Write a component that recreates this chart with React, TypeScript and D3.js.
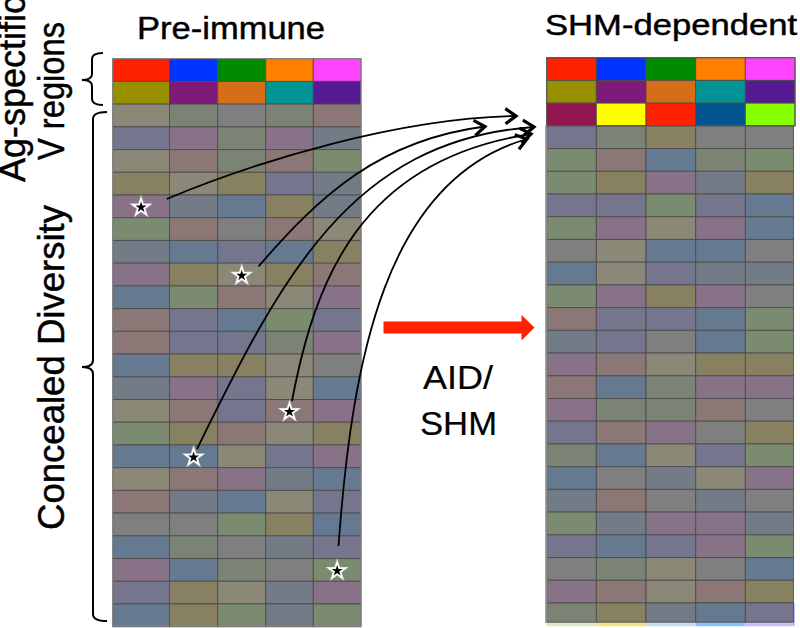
import React from "react";
import * as d3 from "d3";

// ---------- data ----------
const COLUMNS = [0, 1, 2, 3, 4];

// saturated antigen-specific V region rows
const AG_ROW_1 = ["#ff2200", "#0033ff", "#008a00", "#ff7f00", "#ff44ff"];
const AG_ROW_2 = ["#999000", "#7e1a78", "#d66e18", "#009494", "#561a92"];
const AG_ROW_3 = ["#931650", "#ffff00", "#ff2200", "#00548f", "#88ff00"];

// muted palette codes
const MUTED: Record<string, string> = {
  T: "#8b8878", // tan
  G: "#7f7f7f", // gray
  Q: "#7b8375", // gray-green
  N: "#7a8b6f", // green
  R: "#8b7776", // rose
  M: "#887288", // mauve
  S: "#657a90", // slate blue
  B: "#737c86", // blue-gray
  L: "#75758e", // lavender-gray
  O: "#878162", // olive
};

const PRE_ROWS = [
  "TQGQR", "LMQMB", "TRQRN", "OTOLB", "MBSOB", "NRGRT", "BSLSO", "MOTOR",
  "SNRTM", "RLSNL", "RLLQM", "SOOTG", "BMLTS", "TRLRM", "NORTO", "SSTLM",
  "TRMBS", "RBSTL", "GGNOS", "SQGBL", "MSQGN", "LOTBM", "SONBN",
];

const SHM_ROWS = [
  "LQOGG", "NRSQN", "NOMBO", "LLNLS", "NMTMS", "GTSSG", "STLBB", "NMOMG",
  "RLLSN", "BLGSN", "MRTOO", "RSQMM", "MQQRG", "LRMGO", "QSTLN", "SGBTM",
  "BRGBG", "NBMMB", "LSLMN", "GQTGS", "MRTRO", "QOBSL",
];
const SHM_UNDERLAY = ["#d6ecbe", "#f4e27a", "#c8dcf0", "#88c4ff", "#c8c0f4"];

// starred clones in the pre-immune repertoire (muted row index, column)
const STAR_ROWS = [4, 7, 15, 13, 20];
const STAR_COLS = [0, 2, 1, 3, 4];

// ---------- layout ----------
const W = 800, H = 628;
const LEFT_EDGES = [112.7, 169.5, 217.7, 265.7, 313.3, 361];
const TOTAL_ROWS = 25;
const leftY = d3.scaleBand<number>().domain(d3.range(TOTAL_ROWS)).range([58.7, 626.7]);
const rightX = d3.scaleBand<number>().domain(COLUMNS).range([546.7, 795]);
const rightY = d3.scaleBand<number>().domain(d3.range(TOTAL_ROWS)).range([57.7, 625.7]);

const LINKS = [
  { from: [166.7, 199], c1: [260, 160], c2: [400, 118], to: [516, 116] },
  { from: [258.5, 266.5], c1: [320, 195], c2: [380, 140], to: [485, 126.5] },
  { from: [197, 449], c1: [280, 280], c2: [350, 140], to: [534, 127] },
  { from: [292, 401], c1: [315, 280], c2: [360, 160], to: [531, 134] },
  { from: [338.5, 546], c1: [352, 360], c2: [385, 180], to: [527, 139] },
];

const FONT = "'Liberation Sans', Arial, Helvetica, sans-serif";
const GRID_STROKE = "#4a4a4a";

function chevron(tip: number[], from: number[], len = 13, ang = 0.62) {
  const a = Math.atan2(tip[1] - from[1], tip[0] - from[0]);
  const p1 = [tip[0] - len * Math.cos(a - ang), tip[1] - len * Math.sin(a - ang)];
  const p2 = [tip[0] - len * Math.cos(a + ang), tip[1] - len * Math.sin(a + ang)];
  return `M${p1[0]},${p1[1]}L${tip[0]},${tip[1]}L${p2[0]},${p2[1]}`;
}

function brace(xL: number, xT: number, xP: number, y1: number, y2: number, ym: number, r = 6) {
  const p = d3.path();
  p.moveTo(xT, y1);
  p.quadraticCurveTo(xL, y1, xL, y1 + r);
  p.lineTo(xL, ym - r);
  p.quadraticCurveTo(xL, ym, xP, ym);
  p.quadraticCurveTo(xL, ym, xL, ym + r);
  p.lineTo(xL, y2 - r);
  p.quadraticCurveTo(xL, y2, xT, y2);
  return p.toString();
}

const starOuter = d3.symbol(d3.symbolStar, 170)()!;
const starInner = d3.symbol(d3.symbolStar, 38)()!;

export default function App() {
  const leftCell = (row: number, col: number, fill: string, key: string) => (
    <rect
      key={key}
      x={LEFT_EDGES[col]}
      y={leftY(row)!}
      width={LEFT_EDGES[col + 1] - LEFT_EDGES[col]}
      height={leftY.bandwidth()}
      fill={fill}
      stroke={GRID_STROKE}
      strokeWidth={1}
      strokeOpacity={0.85}
    />
  );
  const rightCell = (row: number, col: number, fill: string, key: string) => (
    <rect
      key={key}
      x={rightX(col)!}
      y={rightY(row)!}
      width={rightX.bandwidth()}
      height={rightY.bandwidth()}
      fill={fill}
      stroke={GRID_STROKE}
      strokeWidth={1}
      strokeOpacity={0.85}
    />
  );

  const lastRowY = rightY(TOTAL_ROWS - 1)!;
  const textProps = { stroke: "#000", strokeWidth: 0.45, fill: "#000" };

  return (
    <svg
      width={W}
      height={H}
      style={{ position: "absolute", left: 0, top: 0, background: "#fff" }}
      fontFamily={FONT}
    >
      {/* left grid */}
      <g>
        {AG_ROW_1.map((c, i) => leftCell(0, i, c, `la${i}`))}
        {AG_ROW_2.map((c, i) => leftCell(1, i, c, `lb${i}`))}
        {PRE_ROWS.map((row, r) =>
          row.split("").map((code, i) => leftCell(r + 2, i, MUTED[code], `lm${r}-${i}`))
        )}
        <rect
          x={LEFT_EDGES[0]}
          y={leftY(0)!}
          width={LEFT_EDGES[5] - LEFT_EDGES[0]}
          height={leftY.bandwidth() * TOTAL_ROWS}
          fill="none"
          stroke="#8a8a8a"
          strokeWidth={1}
        />
      </g>

      {/* right grid */}
      <g>
        {AG_ROW_1.map((c, i) => rightCell(0, i, c, `ra${i}`))}
        {AG_ROW_2.map((c, i) => rightCell(1, i, c, `rb${i}`))}
        {AG_ROW_3.map((c, i) => rightCell(2, i, c, `rc${i}`))}
        {SHM_UNDERLAY.map((c, i) => (
          <rect
            key={`ru${i}`}
            x={rightX(i)!}
            y={lastRowY}
            width={rightX.bandwidth()}
            height={rightY.bandwidth() + 0.5}
            fill={c}
          />
        ))}
        {SHM_ROWS.map((row, r) =>
          row.split("").map((code, i) => (
            <rect
              key={`rm${r}-${i}`}
              x={rightX(i)!}
              y={rightY(r + 3)!}
              width={rightX.bandwidth() - (i === 4 ? 1.5 : 0)}
              height={rightY.bandwidth() - (r === SHM_ROWS.length - 1 ? 3.5 : 0)}
              fill={MUTED[code]}
              stroke={GRID_STROKE}
              strokeWidth={1}
              strokeOpacity={0.85}
            />
          ))
        )}
        <line
          x1={rightX(0)! - 0.5}
          x2={rightX(0)! - 0.5}
          y1={rightY(3)!}
          y2={rightY(TOTAL_ROWS - 1)! + rightY.bandwidth() - 3}
          stroke="#8c8c8c"
          strokeWidth={2}
        />
        <rect
          x={rightX(0)!}
          y={rightY(0)!}
          width={rightX.range()[1] - rightX.range()[0]}
          height={rightY.bandwidth() * 3}
          fill="none"
          stroke="#555"
          strokeWidth={1}
        />
      </g>

      {/* stars */}
      {STAR_ROWS.map((r, i) => {
        const c = STAR_COLS[i];
        const cx = (LEFT_EDGES[c] + LEFT_EDGES[c + 1]) / 2;
        const cy = leftY(r + 2)! + leftY.bandwidth() / 2 + 1;
        return (
          <g key={`s${i}`} transform={`translate(${cx},${cy})`}>
            <path d={starOuter} fill="#fff" stroke="#999" strokeWidth={0.4} />
            <path d={starInner} fill="#000" />
          </g>
        );
      })}

      {/* curved links */}
      {LINKS.map((l, i) => (
        <g key={`l${i}`} fill="none" stroke="#000">
          <path
            d={`M${l.from[0]},${l.from[1]}C${l.c1[0]},${l.c1[1]} ${l.c2[0]},${l.c2[1]} ${l.to[0]},${l.to[1]}`}
            strokeWidth={1.8}
          />
          <path d={chevron(l.to, l.c2)} strokeWidth={3.2} strokeLinejoin="miter" />
        </g>
      ))}

      {/* red arrow */}
      <path
        d={(() => {
          const p = d3.path();
          p.moveTo(383.5, 321.5);
          p.lineTo(521.5, 321.5);
          p.lineTo(521.5, 315);
          p.lineTo(534.5, 327.5);
          p.lineTo(521.5, 340.5);
          p.lineTo(521.5, 333.5);
          p.lineTo(383.5, 333.5);
          p.closePath();
          return p.toString();
        })()}
        fill="#ff2200"
      />

      {/* braces */}
      <g fill="none" stroke="#000" strokeWidth={2}>
        <path d={brace(92, 103, 82, 53, 105, 80, 6)} />
        <path d={brace(93, 107, 82, 112, 621, 367, 7)} />
      </g>

      {/* titles */}
      <text x={137} y={39} fontSize={31} textLength={188} lengthAdjust="spacingAndGlyphs" {...textProps}>
        Pre-immune
      </text>
      <text x={545} y={35} fontSize={29} textLength={252} lengthAdjust="spacingAndGlyphs" {...textProps}>
        SHM-dependent
      </text>
      <text x={423} y={389} fontSize={33} textLength={70} lengthAdjust="spacingAndGlyphs" {...textProps} strokeWidth={0.2}>
        AID/
      </text>
      <text x={420} y={435} fontSize={33} textLength={77} lengthAdjust="spacingAndGlyphs" {...textProps} strokeWidth={0.2}>
        SHM
      </text>

      {/* vertical labels */}
      <text
        transform="translate(25,182) rotate(-90)"
        fontSize={36}
        textLength={186}
        lengthAdjust="spacingAndGlyphs"
        {...textProps}
      >
        Ag-spectific
      </text>
      <text
        transform="translate(64,160) rotate(-90)"
        fontSize={36}
        textLength={138}
        lengthAdjust="spacingAndGlyphs"
        {...textProps}
      >
        V regions
      </text>
      <text
        transform="translate(64,530) rotate(-90)"
        fontSize={36}
        textLength={325}
        lengthAdjust="spacingAndGlyphs"
        {...textProps}
      >
        Concealed Diversity
      </text>
    </svg>
  );
}
